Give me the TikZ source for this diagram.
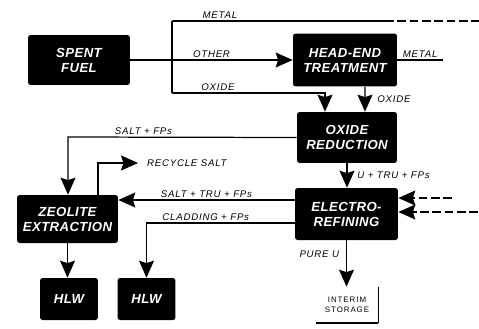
\documentclass[tikz,border=0pt]{standalone}
\usepackage{fontspec}
\setmainfont{Liberation Sans}
\usetikzlibrary{arrows.meta}

\tikzset{
  blk/.style={fill=black,text=white,rounded corners=1.5pt,align=center,inner sep=0pt,
    font=\fontsize{7.5}{8.5}\selectfont\bfseries\itshape\addfontfeatures{LetterSpace=3}},
  lbl/.style={inner sep=1pt,font=\fontsize{5.5}{6.5}\selectfont\itshape\addfontfeatures{LetterSpace=8}},
  flow/.style={line width=0.7pt},
  faint/.style={line width=0.7pt,dash pattern=on 5pt off 2pt},
}

\begin{document}
\begin{tikzpicture}[>={Stealth[length=0.34cm,width=0.3cm,inset=0.05cm]},x=0.02cm,y=-0.02cm]
  \useasboundingbox (0,0) rectangle (479,328);

  % process boxes
  \node[blk,minimum width=2.04cm,minimum height=1.0cm] (spent) at (79,60) {SPENT\\FUEL};
  \node[blk,minimum width=2.08cm,minimum height=1.06cm] (headend) at (345,60) {HEAD-END\\TREATMENT};
  \node[blk,minimum width=2.0cm,minimum height=1.02cm] (oxred) at (347,137.5) {OXIDE\\REDUCTION};
  \node[blk,minimum width=2.06cm,minimum height=1.04cm] (eref) at (346.5,214) {ELECTRO-\\REFINING};
  \node[blk,minimum width=2.02cm,minimum height=0.96cm] (zeo) at (67.5,219) {ZEOLITE\\EXTRACTION};
  \foreach \n/\x in {hlwa/69,hlwb/146.5}
    \node[blk,minimum width=1.16cm,minimum height=0.84cm] (\n) at (\x,299) {HLW};
  \node[lbl,align=center,minimum width=1.24cm,minimum height=0.72cm,font=\fontsize{4.5}{6}\selectfont\addfontfeatures{LetterSpace=12}] (store) at (347,305) {INTERIM\\STORAGE};
  \draw[flow] (store.north east) -- (store.south east);
  \draw[line width=1.2pt] (store.south east) -- (store.south west);

  % feed split
  \coordinate (mt) at (172,21);
  \coordinate (ob) at (172,93);
  \coordinate (mmid) at (385,21);
  \coordinate (mend) at (479,21);
  \coordinate (oxa) at (325,93);
  \draw[flow,->] (spent) -- node[lbl,above]{OTHER} (headend);
  \draw[flow] (mt) -- (ob);
  \draw[flow] (mt) -- node[lbl,above,pos=0.225]{METAL} (mmid);
  \draw[faint] (mmid) -- (mend);
  \draw[flow,->] (ob) -- node[lbl,above,pos=0.3]{OXIDE} (oxa) -- (oxa |- oxred.north);

  % head-end outputs
  \coordinate (hm) at (443,60);
  \draw[flow] (headend.east) -- node[lbl,above]{METAL} (hm);
  \draw[flow,->] ([xshift=0.4cm]headend.south) -- node[lbl,right,xshift=0.2cm]{OXIDE} ([xshift=0.36cm]oxred.north);

  % reduction to refining
  \draw[flow,->] (oxred.south) -- node[lbl,right,xshift=0.16cm]{U + TRU + FPs} (oxred.south |- eref.north);
  \coordinate (sfp) at (68,137);
  \draw[flow,->] (oxred.west) -- node[lbl,above,pos=0.67]{SALT + FPs} (sfp) -- (sfp |- zeo.north);

  % refining outputs
  \coordinate (sa) at ([yshift=0.28cm]eref.west);
  \coordinate (cl) at ([yshift=-0.18cm]eref.west);
  \draw[flow,->] (sa) -- node[lbl,above]{SALT + TRU + FPs} (sa -| zeo.east);
  \draw[flow,->] (cl) -- node[lbl,above,pos=0.6]{CLADDING + FPs} (cl -| hlwb) -- (hlwb.north);
  \draw[flow,->] (eref.south) -- node[lbl,left,pos=0.3,xshift=-0.1cm]{PURE U} (eref.south |- store.north);

  % inputs from the right
  \coordinate (ra) at (452,198);
  \coordinate (rb) at (478,212);
  \draw[faint,->] (ra) -- (ra -| eref.east);
  \draw[faint,->] (rb) -- (rb -| eref.east);

  % zeolite outputs
  \node[lbl,anchor=west] (rsalt) at (145,163) {RECYCLE SALT};
  \coordinate (rc) at ([xshift=0.61cm]zeo.north);
  \draw[flow,->,shorten >=0.14cm] (rc) |- (rsalt);
  \draw[flow,->] (zeo.south) -- (zeo.south |- hlwa.north);
\end{tikzpicture}
\end{document}
